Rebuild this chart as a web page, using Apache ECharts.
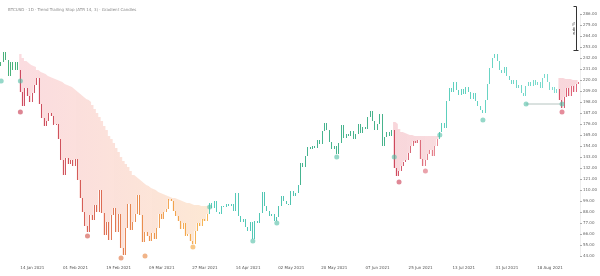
<!DOCTYPE html>
<html><head><meta charset="utf-8">
<script src="https://cdn.jsdelivr.net/npm/echarts@6/dist/echarts.min.js"></script>
<style>html,body{margin:0;padding:0;background:#fff}#c{width:600px;height:276px}</style>
</head><body><div id="c"></div>
<script>
// ---- data (prices) ----
const firstOpen = 234;
const closes = [
238,248,240,224,238,230,238,230,208,194,
212,204,198,207,215,222,196,182,174,179,
187,184,175,176,161,140,125,142,136,140,
134,141,120,102,88,74,68,85,80,95,
88,110,87,65,78,60,85,92,68,86,
52,45,72,96,70,78,86,105,85,58,
68,64,59,67,61,72,86,81,88,91,
101,99,89,84,79,71,77,64,66,59,
56,69,77,74,81,79,86,97,92,99,
88,86,94,93,96,94,96,89,107,84,
78,81,73,69,78,61,79,77,87,108,
94,89,84,86,79,83,94,104,99,96,
95,109,104,107,115,137,133,144,153,151,
154,152,160,156,169,177,170,158,151,154,
146,157,175,162,166,164,169,161,166,176,
167,173,171,183,189,179,170,176,186,154,
163,168,164,170,132,124,129,134,138,140,
147,154,159,157,160,141,134,140,146,150,
144,154,161,168,177,172,199,212,208,218,
210,205,211,206,213,208,201,207,199,194,
190,187,200,216,232,242,246,239,230,227,
233,224,220,216,220,212,215,207,204,214,
218,214,220,215,218,212,222,226,218,210,
213,207,211,200,192,203,212,204,214,208,
216,218
];
// trailing stop levels during the down-trend segments
const trailBStart = 8;
const trailB = [246,242,239,237,235,234,233,230,228,227,
226,224,223,222,221,220,219,218,216,215,
214,213,211,209,207,205,203,201,200,198,
195,191,187,183,179,174,170,164,161,157,
152,148,143,139,136,133,129,125,123,121,
119,117,115,114,112,111,110,108,107,106,
105,104,103,102,102,101,100,99,98,97,
97,96,95,95,95,94,94,94,94];
const trailDStart = 164;
const trailD = [178,176,171,168,167,166,165,165,164,164,164,164,164,164,164,164,164,164,164];
const trailFStart = 233;
const trailF = [222,222,221,221,221,220,220,220,220];
// markers [barIndex, price]
const flipDots = [[0,219],[8,219],[87,93],[105,59],[115,77],[140,143],[164,143],[183,165],[201,180],[219,196],[234,196]];
const pivotDots = [[8,188],[36,64],[50,42],[60,44],[80,53],[166,118],[177,129],[234,188]];
const levelLines = [[219,234,196]];
// x tick labels
const tickStart = 13, tickStep = 18;
const tickLabels = ['14 Jan 2021','01 Feb 2021','19 Feb 2021','09 Mar 2021','27 Mar 2021','14 Apr 2021','02 May 2021','20 May 2021','07 Jun 2021','25 Jun 2021','13 Jul 2021','31 Jul 2021','18 Aug 2021'];
const titleText = 'BTCUSD · 1D · Trend Trailing Stop (ATR 14, 3) · Gradient Candles';

// ---- styling helpers ----
const N = closes.length;
const cats = closes.map((_, i) => 'b' + i);
const colorStops = [[0,'#1b9e5a'],[7,'#1b9e5a'],[8,'#c2253f'],[28,'#c4303a'],[40,'#d2482f'],[55,'#e2702b'],[70,'#ee8f2a'],[86,'#f4a52b'],
  [87,'#2cc1ab'],[124,'#22b39a'],[125,'#17a173'],[163,'#18a06e'],[164,'#c2233c'],[182,'#e26f7a'],[183,'#2fc2aa'],[232,'#5dd3c3'],[233,'#cf2f4a'],[241,'#d8435c']];
function hex(c){return [parseInt(c.slice(1,3),16),parseInt(c.slice(3,5),16),parseInt(c.slice(5,7),16)];}
function barColor(i){
  for (let k=0;k<colorStops.length-1;k++){
    const [a,ca]=colorStops[k],[b,cb]=colorStops[k+1];
    if(i>=a&&i<=b){ if(b===a) return ca; const t=(i-a)/(b-a); const A=hex(ca),B=hex(cb);
      return 'rgb('+A.map((v,j)=>Math.round(v+(B[j]-v)*t)).join(',')+')'; }
  }
  return colorStops[colorStops.length-1][1];
}
function rgba(c,a){ if(c[0]==='#'){return 'rgba('+hex(c).join(',')+','+a+')';} return c.replace('rgb(','rgba(').replace(')',','+a+')'); }

const candleData = closes.map((c,i)=>{
  const o = i===0?firstOpen:closes[i-1];
  const col = barColor(i);
  return {value:[o,c,Math.min(o,c),Math.max(o,c)], itemStyle:{color:col,color0:col,borderColor:col,borderColor0:col}};
});

function fillSeries(key,start,trail,c0,c1){
  const base = new Array(N).fill('-'), band = new Array(N).fill('-');
  trail.forEach((t,k)=>{ base[start+k]=closes[start+k]; band[start+k]=t-closes[start+k]; });
  return [
    {type:'line',stack:key,data:base,symbol:'none',step:'middle',lineStyle:{width:0,opacity:0},silent:true,z:1,clip:false},
    {type:'line',stack:key,data:band,symbol:'none',step:'middle',lineStyle:{width:0,opacity:0},silent:true,z:1,clip:false,
      areaStyle:{opacity:1,color:new echarts.graphic.LinearGradient(0,0,1,0,[{offset:0,color:c0},{offset:1,color:c1}])}}
  ];
}

const series = [
  ...fillSeries('B',trailBStart,trailB,'rgba(235,80,100,0.2)','rgba(245,150,60,0.22)'),
  ...fillSeries('D',trailDStart,trailD,'rgba(225,70,90,0.22)','rgba(225,80,95,0.2)'),
  ...fillSeries('F',trailFStart,trailF,'rgba(225,70,90,0.22)','rgba(225,70,90,0.22)'),
  {type:'candlestick',data:candleData,barWidth:1,clip:false,z:3,itemStyle:{borderWidth:0.8}},
  ...levelLines.map(l=>({type:'line',data:[[cats[l[0]],l[2]],[cats[l[1]],l[2]]],symbol:'none',lineStyle:{color:'#b5c4c0',width:1},z:2,clip:false})),
  {type:'scatter',data:flipDots.map(d=>({value:[cats[d[0]],d[1]],itemStyle:{color:'rgba(80,190,165,0.75)'}})),symbolSize:5,z:4,clip:false},
  {type:'scatter',data:pivotDots.map(d=>({value:[cats[d[0]],d[1]],itemStyle:{color:rgba(barColor(d[0]),0.7)}})),symbolSize:5,z:4,clip:false}
];

const chart = echarts.init(document.getElementById('c'),null,{renderer:'canvas'});
chart.setOption({
  animation:false,
  title:{text:titleText,left:3,top:3,textStyle:{fontSize:4,color:'#8a8a8a',fontWeight:'normal',fontFamily:'DejaVu Sans'}},
  grid:{left:0,right:20,top:14,bottom:20},
  xAxis:{type:'category',data:cats,boundaryGap:true,axisLine:{show:false},axisTick:{show:false},splitLine:{show:false},
    axisLabel:{interval:(i)=>i>=tickStart&&(i-tickStart)%tickStep===0,formatter:(v,i)=>tickLabels[(i-tickStart)/tickStep]||'',
      fontSize:4,color:'#555',margin:10,fontFamily:'DejaVu Sans'}},
  yAxis:{type:'value',position:'right',min:44,max:286,interval:11,splitLine:{show:false},
    axisLine:{show:true,lineStyle:{color:'#eeeeee'}},axisTick:{show:true,length:2,lineStyle:{color:'#aaa'}},
    axisLabel:{fontSize:4,color:'#666',margin:3,formatter:v=>v.toFixed(2),fontFamily:'DejaVu Sans'}},
  graphic:[{type:'group',left:571,top:4,children:[
    {type:'line',shape:{x1:4,y1:0,x2:4,y2:44},style:{stroke:'#333',lineWidth:1}},
    {type:'line',shape:{x1:1,y1:0,x2:4,y2:0},style:{stroke:'#333',lineWidth:1}},
    {type:'line',shape:{x1:1,y1:44,x2:6,y2:44},style:{stroke:'#333',lineWidth:1}},
    {type:'text',x:1,y:22,rotation:Math.PI/2,style:{text:'auto %',fontSize:4,fill:'#333',align:'center',verticalAlign:'middle'}}
  ]}],
  series
});
</script></body></html>
